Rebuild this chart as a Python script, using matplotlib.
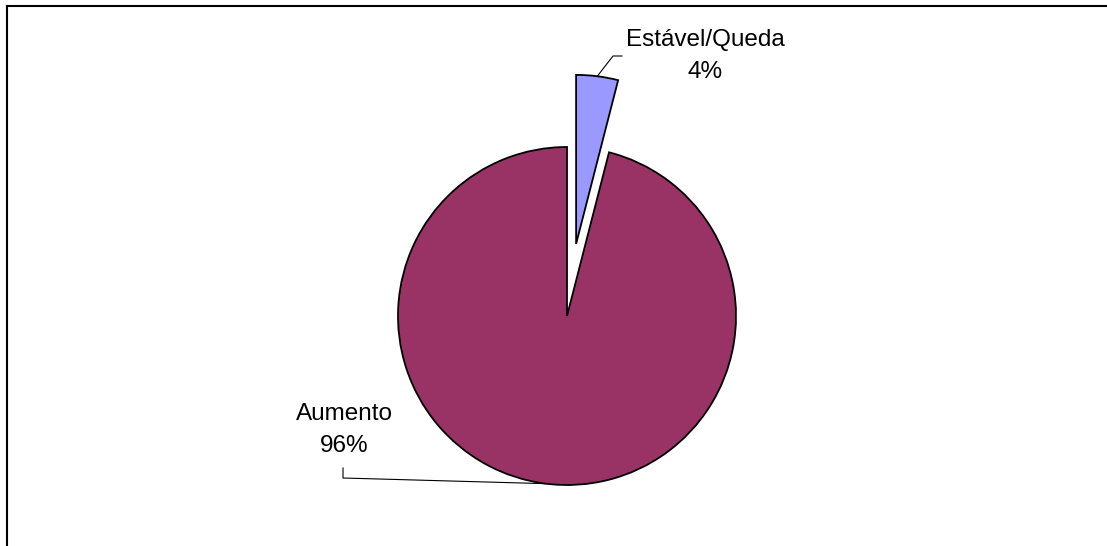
import numpy as np
import matplotlib.pyplot as plt
from matplotlib.lines import Line2D

categories = ["Estável/Queda", "Aumento"]
values = [4, 96]
colors = ["#9999FF", "#993366"]
explode = [0.43, 0]

W, H = 1107, 546
CX, CY, R = 567, 316, 169  # pie centre / radius in pixels


def px(x, y):
    # pixel position -> data units (radius 1)
    return (x - CX) / R, (CY - y) / R


plt.rcParams["font.family"] = ["Liberation Sans", "DejaVu Sans"]

fig = plt.figure(figsize=(W / 100, H / 100), dpi=100)
ax = fig.add_axes([0, 0, 1, 1])

wedges, _ = ax.pie(values, colors=colors, explode=explode, startangle=90,
                   counterclock=False, radius=1,
                   wedgeprops=dict(edgecolor="black", linewidth=1.3))

# pie() resets the limits, so fix them afterwards
ax.set_aspect("auto")
ax.set_xlim(-CX / R, (W - CX) / R)
ax.set_ylim(-(H - CY) / R, CY / R)
ax.axis("off")

total = sum(values)
label_pos = [px(705, 56), px(344, 430)]
elbows = [[px(613, 56), px(622, 56)], [px(343, 478), px(343, 468)]]

for w, name, v, lp, elb in zip(wedges, categories, values, label_pos, elbows):
    mid = np.deg2rad((w.theta1 + w.theta2) / 2)
    cx, cy = w.center
    p = (cx + w.r * np.cos(mid), cy + w.r * np.sin(mid))
    xs = [p[0]] + [e[0] for e in elb]
    ys = [p[1]] + [e[1] for e in elb]
    ax.plot(xs, ys, color="black", lw=0.8)
    ax.text(lp[0], lp[1], f"{name}\n{v / total * 100:.0f}%", ha="center",
            va="center", fontsize=17.5, linespacing=1.6)

# chart frame (top and left edges)
fig.add_artist(Line2D([7 / W, 1], [1 - 6 / H, 1 - 6 / H], color="black", lw=1.5))
fig.add_artist(Line2D([7 / W, 7 / W], [0, 1 - 6 / H], color="black", lw=1.5))

fig.savefig("out.png", dpi=100)
